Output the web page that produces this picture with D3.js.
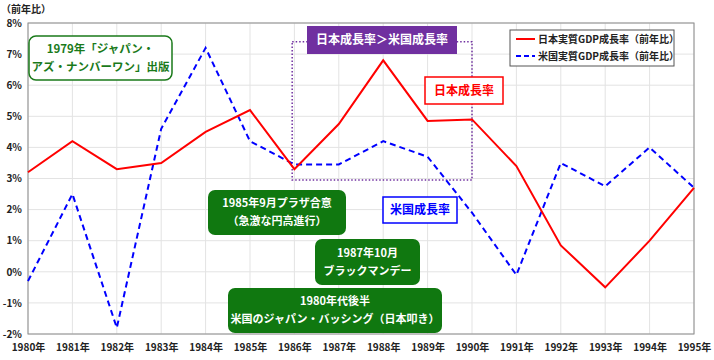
<!DOCTYPE html>
<html><head><meta charset="utf-8">
<script src="https://cdn.jsdelivr.net/npm/d3@7"></script>
<style>
body{margin:0;background:#fff;}
text{font-family:"Noto Sans CJK JP","Noto Sans",sans-serif;}
</style></head>
<body><svg id="c" width="714" height="360"></svg>
<script>
const years = [1980,1981,1982,1983,1984,1985,1986,1987,1988,1989,1990,1991,1992,1993,1994,1995];
const japanGrowth = [3.2,4.2,3.3,3.5,4.5,5.2,3.3,4.75,6.8,4.85,4.9,3.4,0.85,-0.5,1.0,2.7];
const usGrowth = [-0.3,2.5,-1.8,4.6,7.2,4.2,3.45,3.45,4.2,3.7,1.9,-0.1,3.5,2.75,4.0,2.7];
const yTicks = [-2,-1,0,1,2,3,4,5,6,7,8];
const seriesNames = ["日本実質GDP成長率（前年比）","米国実質GDP成長率（前年比）"];

const svg = d3.select("#c");
const M = {l:28, r:694, t:23, b:334};
const x = d3.scaleLinear().domain([1980,1995]).range([M.l,M.r]);
const y = d3.scaleLinear().domain([-2,8]).range([M.b,M.t]);

// grid
svg.append("g").selectAll("line").data(yTicks).join("line")
  .attr("x1",M.l).attr("x2",M.r).attr("y1",d=>y(d)).attr("y2",d=>y(d))
  .attr("stroke","#e3e3e3").attr("stroke-width",1);
svg.append("g").selectAll("line").data(years).join("line")
  .attr("x1",d=>x(d)).attr("x2",d=>x(d)).attr("y1",M.t).attr("y2",M.b)
  .attr("stroke","#e3e3e3").attr("stroke-width",1);

// frame
svg.append("rect").attr("x",M.l).attr("y",M.t).attr("width",M.r-M.l).attr("height",M.b-M.t)
  .attr("fill","none").attr("stroke","#8c8c8c").attr("stroke-width",1);

// axes
const yAxis = d3.axisLeft(y).tickValues(yTicks).tickSize(0).tickPadding(6).tickFormat(d=>d+"%");
const gy = svg.append("g").attr("transform",`translate(${M.l},0)`).call(yAxis);
gy.select(".domain").remove();
gy.selectAll("text").attr("font-size",10).attr("font-weight","bold").attr("fill","#222");

const xAxis = d3.axisBottom(x).tickValues(years).tickSize(0).tickPadding(10).tickFormat(d=>d+"年");
const gx = svg.append("g").attr("transform",`translate(0,${M.b})`).call(xAxis);
gx.select(".domain").remove();
gx.selectAll("text").attr("font-size",10).attr("font-weight","bold").attr("fill","#222");

svg.append("text").attr("x",1).attr("y",9).attr("dy","0.36em").attr("font-size",10).attr("font-weight","bold").attr("fill","#222").text("（前年比）");

// annotation: purple dotted rect
svg.append("rect").attr("x",x(1985.95)).attr("y",y(7.4)).attr("width",x(1990)-x(1985.95)).attr("height",y(2.95)-y(7.4))
  .attr("fill","none").attr("stroke","#7030a0").attr("stroke-width",1.5).attr("stroke-dasharray","1.5,2");

// lines
const line = d3.line().x((d,i)=>x(years[i])).y(d=>y(d));
svg.append("path").datum(usGrowth).attr("d",line).attr("fill","none").attr("stroke","#0000ff").attr("stroke-width",2).attr("stroke-dasharray","6,4");
svg.append("path").datum(japanGrowth).attr("d",line).attr("fill","none").attr("stroke","#ff0000").attr("stroke-width",2);

// helper for boxes
function box(x0,y0,w,h,opts,lines){
  const g = svg.append("g");
  g.append("rect").attr("x",x0).attr("y",y0).attr("width",w).attr("height",h)
   .attr("rx",opts.rx||0).attr("fill",opts.fill).attr("stroke",opts.stroke||"none").attr("stroke-width",opts.sw||0);
  const fs = opts.fs||11, lh = opts.lh||17;
  const cy = y0+h/2 - (lines.length-1)*lh/2;
  lines.forEach((t,i)=>{
    g.append("text").attr("x",x0+w/2).attr("y",cy+i*lh).attr("dy","0.36em").attr("text-anchor","middle")
     .attr("font-size",fs).attr("font-weight","bold").attr("fill",opts.color).text(t);
  });
}
box(29,36,143,44,{rx:7,fill:"#fff",stroke:"#1a7a1a",sw:1.5,color:"#1a7a1a",fs:11.5,lh:18},["1979年「ジャパン・","アズ・ナンバーワン」出版"]);
box(307,26,150,28,{fill:"#7030a0",color:"#fff",fs:12},["日本成長率＞米国成長率"]);
box(425,77,78,27,{fill:"#fff",stroke:"#ff0000",sw:1.5,color:"#ff0000",fs:12},["日本成長率"]);
box(383,197,74,26,{fill:"#fff",stroke:"#0000ff",sw:1.5,color:"#0000ff",fs:12},["米国成長率"]);
box(208,190,138,45,{rx:7,fill:"#107810",color:"#fff",fs:11,lh:18},["1985年9月プラザ合意","（急激な円高進行）"]);
box(315,239,105,46,{rx:7,fill:"#107810",color:"#fff",fs:11,lh:18},["1987年10月","ブラックマンデー"]);
box(228,288,214,45,{rx:7,fill:"#107810",color:"#fff",fs:11,lh:18},["1980年代後半","米国のジャパン・バッシング（日本叩き）"]);

// legend
const lg = svg.append("g");
lg.append("rect").attr("x",510).attr("y",30).attr("width",164).attr("height",36).attr("fill","#fff").attr("stroke","#555").attr("stroke-width",1);
const colors = ["#ff0000","#0000ff"], dashes=[null,"5,3"];
seriesNames.forEach((n,i)=>{
  const yy = 39+i*17;
  lg.append("line").attr("x1",516).attr("x2",535).attr("y1",yy).attr("y2",yy).attr("stroke",colors[i]).attr("stroke-width",2).attr("stroke-dasharray",dashes[i]);
  lg.append("text").attr("x",538).attr("y",yy).attr("dy","0.36em").attr("font-size",10).attr("font-weight","bold").attr("fill","#222").text(n);
});
</script></body></html>
